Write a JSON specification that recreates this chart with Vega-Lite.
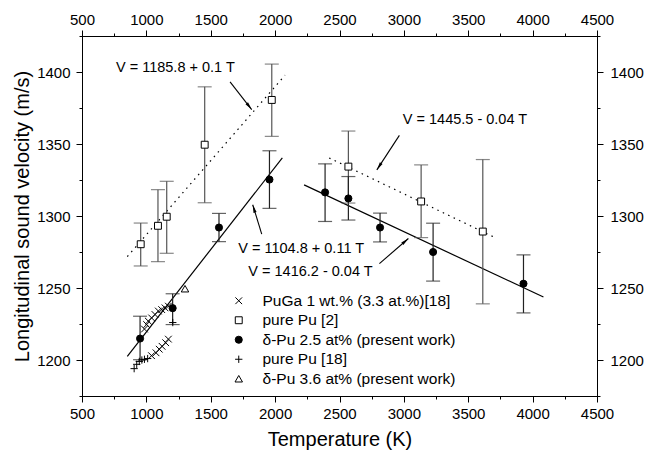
{
  "$schema": "https://vega.github.io/schema/vega-lite/v6.json",
  "width": 515,
  "height": 360,
  "autosize": {"type": "none"},
  "padding": {"left": 82, "top": 36, "right": 49, "bottom": 60},
  "background": "white",
  "config": {
    "view": {"stroke": "black", "strokeWidth": 1},
    "font": "Liberation Sans",
    "axis": {
      "grid": false, "domainColor": "black", "tickColor": "black", "labelColor": "black", "titleColor": "black",
      "labelFont": "Liberation Sans", "titleFont": "Liberation Sans", "labelFontSize": 15, "titleFontSize": 20,
      "titleFontWeight": "normal", "labelFlush": false, "labelOverlap": false, "labelBound": false,
      "domainWidth": 1, "tickWidth": 1, "format": "d"
    }
  },
  "datasets": {
    "fits": [
      {"group": "pure Pu [2]", "branch": "low", "T": 852, "V": 1271.8},
      {"group": "pure Pu [2]", "branch": "low", "T": 2077, "V": 1397.8},
      {"group": "pure Pu [2]", "branch": "high", "T": 2420, "V": 1340.3},
      {"group": "pure Pu [2]", "branch": "high", "T": 3696, "V": 1285.5},
      {"group": "δ-Pu 2.5 at%", "branch": "low", "T": 852, "V": 1202.5},
      {"group": "δ-Pu 2.5 at%", "branch": "low", "T": 2056, "V": 1340.4},
      {"group": "δ-Pu 2.5 at%", "branch": "high", "T": 2225, "V": 1321.6},
      {"group": "δ-Pu 2.5 at%", "branch": "high", "T": 4084, "V": 1243.7}
    ],
    "errs": [
      {"series": "pure Pu [2]", "T": 956, "V": 1280.4, "lo": 1265.3, "hi": 1295.1},
      {"series": "pure Pu [2]", "T": 1090, "V": 1293.2, "lo": 1268.3, "hi": 1318.3},
      {"series": "pure Pu [2]", "T": 1158, "V": 1299.5, "lo": 1274.1, "hi": 1324.1},
      {"series": "pure Pu [2]", "T": 1453, "V": 1349.5, "lo": 1309.2, "hi": 1389.7},
      {"series": "pure Pu [2]", "T": 1974, "V": 1380.6, "lo": 1355.3, "hi": 1405.5},
      {"series": "pure Pu [2]", "T": 2569, "V": 1334.3, "lo": 1309.0, "hi": 1359.0},
      {"series": "pure Pu [2]", "T": 3134, "V": 1310.1, "lo": 1285.0, "hi": 1335.5},
      {"series": "pure Pu [2]", "T": 3613, "V": 1289.2, "lo": 1239.0, "hi": 1339.2},
      {"series": "δ-Pu 2.5 at% (present work)", "T": 951, "V": 1214.9, "lo": 1200.2, "hi": 1230.4},
      {"series": "δ-Pu 2.5 at% (present work)", "T": 1204, "V": 1236.0, "lo": 1224.6, "hi": 1246.0},
      {"series": "δ-Pu 2.5 at% (present work)", "T": 1564, "V": 1292.0, "lo": 1282.2, "hi": 1301.8},
      {"series": "δ-Pu 2.5 at% (present work)", "T": 1956, "V": 1325.3, "lo": 1305.3, "hi": 1345.3},
      {"series": "δ-Pu 2.5 at% (present work)", "T": 2388, "V": 1316.4, "lo": 1296.2, "hi": 1336.2},
      {"series": "δ-Pu 2.5 at% (present work)", "T": 2569, "V": 1312.2, "lo": 1297.2, "hi": 1327.4},
      {"series": "δ-Pu 2.5 at% (present work)", "T": 2815, "V": 1292.0, "lo": 1282.0, "hi": 1302.0},
      {"series": "δ-Pu 2.5 at% (present work)", "T": 3227, "V": 1275.0, "lo": 1254.8, "hi": 1295.0},
      {"series": "δ-Pu 2.5 at% (present work)", "T": 3929, "V": 1253.0, "lo": 1232.7, "hi": 1273.0}
    ],
    "pts": [
      {"series": "PuGa 1 wt.% (3.3 at.%)[18]", "T": 985, "V": 1221.5},
      {"series": "PuGa 1 wt.% (3.3 at.%)[18]", "T": 1002, "V": 1224.6},
      {"series": "PuGa 1 wt.% (3.3 at.%)[18]", "T": 1015, "V": 1227.0},
      {"series": "PuGa 1 wt.% (3.3 at.%)[18]", "T": 1041, "V": 1229.2},
      {"series": "PuGa 1 wt.% (3.3 at.%)[18]", "T": 1067, "V": 1231.6},
      {"series": "PuGa 1 wt.% (3.3 at.%)[18]", "T": 1093, "V": 1234.0},
      {"series": "PuGa 1 wt.% (3.3 at.%)[18]", "T": 1119, "V": 1235.0},
      {"series": "PuGa 1 wt.% (3.3 at.%)[18]", "T": 1145, "V": 1236.2},
      {"series": "PuGa 1 wt.% (3.3 at.%)[18]", "T": 1171, "V": 1237.4},
      {"series": "PuGa 1 wt.% (3.3 at.%)[18]", "T": 1040, "V": 1203.0},
      {"series": "PuGa 1 wt.% (3.3 at.%)[18]", "T": 1075, "V": 1205.0},
      {"series": "PuGa 1 wt.% (3.3 at.%)[18]", "T": 1100, "V": 1207.5},
      {"series": "PuGa 1 wt.% (3.3 at.%)[18]", "T": 1122, "V": 1209.5},
      {"series": "PuGa 1 wt.% (3.3 at.%)[18]", "T": 1150, "V": 1212.0},
      {"series": "PuGa 1 wt.% (3.3 at.%)[18]", "T": 1171, "V": 1214.5},
      {"series": "pure Pu [2]", "T": 956, "V": 1280.4},
      {"series": "pure Pu [2]", "T": 1090, "V": 1293.2},
      {"series": "pure Pu [2]", "T": 1158, "V": 1299.5},
      {"series": "pure Pu [2]", "T": 1453, "V": 1349.5},
      {"series": "pure Pu [2]", "T": 1974, "V": 1380.6},
      {"series": "pure Pu [2]", "T": 2569, "V": 1334.3},
      {"series": "pure Pu [2]", "T": 3134, "V": 1310.1},
      {"series": "pure Pu [2]", "T": 3613, "V": 1289.2},
      {"series": "δ-Pu 2.5 at% (present work)", "T": 951, "V": 1214.9},
      {"series": "δ-Pu 2.5 at% (present work)", "T": 1204, "V": 1236.0},
      {"series": "δ-Pu 2.5 at% (present work)", "T": 1564, "V": 1292.0},
      {"series": "δ-Pu 2.5 at% (present work)", "T": 1956, "V": 1325.3},
      {"series": "δ-Pu 2.5 at% (present work)", "T": 2388, "V": 1316.4},
      {"series": "δ-Pu 2.5 at% (present work)", "T": 2569, "V": 1312.2},
      {"series": "δ-Pu 2.5 at% (present work)", "T": 2815, "V": 1292.0},
      {"series": "δ-Pu 2.5 at% (present work)", "T": 3227, "V": 1275.0},
      {"series": "δ-Pu 2.5 at% (present work)", "T": 3929, "V": 1253.0},
      {"series": "pure Pu [18]", "T": 905, "V": 1194.0},
      {"series": "pure Pu [18]", "T": 925, "V": 1197.0},
      {"series": "pure Pu [18]", "T": 945, "V": 1199.0},
      {"series": "pure Pu [18]", "T": 965, "V": 1200.0},
      {"series": "pure Pu [18]", "T": 985, "V": 1200.5},
      {"series": "pure Pu [18]", "T": 1010, "V": 1201.0},
      {"series": "pure Pu [18]", "T": 1205, "V": 1226.0},
      {"series": "δ-Pu 3.6 at% (present work)", "T": 1300, "V": 1249.5}
    ],
    "arrows": [
      {"T": 1650, "V": 1393.1, "T2": 1818, "V2": 1373.9, "heading": 142},
      {"T": 2965, "V": 1356.0, "T2": 2790, "V2": 1332.0, "heading": 213},
      {"T": 1896, "V": 1287.4, "T2": 1826, "V2": 1307.8, "heading": 343},
      {"T": 2810, "V": 1266.9, "T2": 3035, "V2": 1284.4, "heading": 49}
    ],
    "notes": [
      {"T": 764, "V": 1402.5, "text": "V = 1185.8 + 0.1 T"},
      {"T": 2992, "V": 1366.4, "text": "V = 1445.5 - 0.04 T"},
      {"T": 1714, "V": 1277.0, "text": "V = 1104.8 + 0.11 T"},
      {"T": 1792, "V": 1261.3, "text": "V = 1416.2 - 0.04 T"}
    ]
  },
  "layer": [
    {
      "data": {"name": "fits"},
      "transform": [{"filter": "datum.group === 'pure Pu [2]'"}],
      "mark": {"type": "line", "color": "black", "strokeWidth": 1.2, "strokeDash": [1.5, 4.5]},
      "encoding": {
        "x": {"field": "T", "type": "quantitative", "scale": {"domain": [500, 4500], "nice": false, "zero": false},
          "axis": {"orient": "bottom", "title": "Temperature (K)",
            "values": [500,750,1000,1250,1500,1750,2000,2250,2500,2750,3000,3250,3500,3750,4000,4250,4500],
            "labelExpr": "datum.value % 500 === 0 ? datum.label : ''",
            "tickSize": {"condition": {"test": "datum.value % 500 === 0", "value": 6}, "value": 3},
            "labelPadding": 4, "titlePadding": 8}},
        "y": {"field": "V", "type": "quantitative", "scale": {"domain": [1175, 1425], "nice": false, "zero": false},
          "axis": {"orient": "left", "title": "Longitudinal sound velocity (m/s)",
            "values": [1175,1200,1225,1250,1275,1300,1325,1350,1375,1400,1425],
            "labelExpr": "datum.value % 50 === 0 ? datum.label : ''",
            "tickSize": {"condition": {"test": "datum.value % 50 === 0", "value": 6}, "value": 3},
            "labelPadding": 6, "titlePadding": 4}},
        "detail": {"field": "branch"}
      }
    },
    {
      "data": {"name": "fits"},
      "transform": [{"filter": "datum.group !== 'pure Pu [2]'"}],
      "mark": {"type": "line", "color": "black", "strokeWidth": 1.2},
      "encoding": {
        "x": {"field": "T", "type": "quantitative",
          "axis": {"orient": "top", "title": null,
            "values": [500,750,1000,1250,1500,1750,2000,2250,2500,2750,3000,3250,3500,3750,4000,4250,4500],
            "labelExpr": "datum.value % 500 === 0 ? datum.label : ''",
            "tickSize": {"condition": {"test": "datum.value % 500 === 0", "value": 6}, "value": 3},
            "labelPadding": 3}},
        "y": {"field": "V", "type": "quantitative",
          "axis": {"orient": "right", "title": null,
            "values": [1175,1200,1225,1250,1275,1300,1325,1350,1375,1400,1425],
            "labelExpr": "datum.value % 50 === 0 ? datum.label : ''",
            "tickSize": {"condition": {"test": "datum.value % 50 === 0", "value": 6}, "value": 3},
            "labelPadding": 7}},
        "detail": {"field": "branch"}
      }
    },
    {
      "data": {"name": "errs"},
      "mark": {"type": "rule", "strokeWidth": 1.2},
      "encoding": {
        "x": {"field": "T", "type": "quantitative", "axis": null},
        "y": {"field": "lo", "type": "quantitative", "axis": null},
        "y2": {"field": "hi"},
        "color": {"condition": {"test": "datum.series === 'pure Pu [2]'", "value": "#555555"}, "value": "#222222"}
      }
    },
    {
      "data": {"name": "errs"},
      "mark": {"type": "tick", "orient": "horizontal", "size": 14, "thickness": 1.2},
      "encoding": {
        "x": {"field": "T", "type": "quantitative", "axis": null},
        "y": {"field": "lo", "type": "quantitative", "axis": null},
        "color": {"condition": {"test": "datum.series === 'pure Pu [2]'", "value": "#555555"}, "value": "#222222"}
      }
    },
    {
      "data": {"name": "errs"},
      "mark": {"type": "tick", "orient": "horizontal", "size": 14, "thickness": 1.2},
      "encoding": {
        "x": {"field": "T", "type": "quantitative", "axis": null},
        "y": {"field": "hi", "type": "quantitative", "axis": null},
        "color": {"condition": {"test": "datum.series === 'pure Pu [2]'", "value": "#555555"}, "value": "#222222"}
      }
    },
    {
      "data": {"name": "pts"},
      "mark": {"type": "point", "stroke": "black", "strokeWidth": 1, "opacity": 1, "fillOpacity": 1},
      "encoding": {
        "x": {"field": "T", "type": "quantitative", "axis": null},
        "y": {"field": "V", "type": "quantitative", "axis": null},
        "shape": {"field": "series", "type": "nominal",
          "scale": {"domain": ["PuGa 1 wt.% (3.3 at.%)[18]", "pure Pu [2]", "δ-Pu 2.5 at% (present work)", "pure Pu [18]", "δ-Pu 3.6 at% (present work)"],
            "range": ["M-1,-1L1,1M1,-1L-1,1", "square", "circle", "M-1,0L1,0M0,-1L0,1", "triangle-up"]},
          "legend": {"orient": "none", "legendX": 149, "legendY": 257, "title": null, "padding": 0,
            "labelFont": "Liberation Sans", "labelFontSize": 15.5, "labelColor": "black", "labelOffset": 16,
            "labelLimit": 400, "rowPadding": 2.5, "symbolStrokeColor": "black", "symbolStrokeWidth": 1}},
        "fill": {"field": "series", "type": "nominal",
          "scale": {"domain": ["PuGa 1 wt.% (3.3 at.%)[18]", "pure Pu [2]", "δ-Pu 2.5 at% (present work)", "pure Pu [18]", "δ-Pu 3.6 at% (present work)"],
            "range": ["transparent", "white", "black", "transparent", "white"]}},
        "size": {"field": "series", "type": "nominal",
          "scale": {"domain": ["PuGa 1 wt.% (3.3 at.%)[18]", "pure Pu [2]", "δ-Pu 2.5 at% (present work)", "pure Pu [18]", "δ-Pu 3.6 at% (present work)"],
            "range": [45, 56, 90, 50, 85]}}
      }
    },
    {
      "data": {"name": "arrows"},
      "mark": {"type": "rule", "color": "black", "strokeWidth": 1.1},
      "encoding": {
        "x": {"field": "T", "type": "quantitative", "axis": null},
        "y": {"field": "V", "type": "quantitative", "axis": null},
        "x2": {"field": "T2"},
        "y2": {"field": "V2"}
      }
    },
    {
      "data": {"name": "arrows"},
      "mark": {"type": "point", "shape": "M0,0L-0.4,2L0.4,2Z", "size": 64, "filled": true, "color": "black", "opacity": 1},
      "encoding": {
        "x": {"field": "T2", "type": "quantitative", "axis": null},
        "y": {"field": "V2", "type": "quantitative", "axis": null},
        "angle": {"field": "heading", "type": "quantitative", "scale": null}
      }
    },
    {
      "data": {"name": "notes"},
      "mark": {"type": "text", "align": "left", "baseline": "middle", "font": "Liberation Sans", "fontSize": 14.5, "color": "black"},
      "encoding": {
        "x": {"field": "T", "type": "quantitative", "axis": null},
        "y": {"field": "V", "type": "quantitative", "axis": null},
        "text": {"field": "text"}
      }
    }
  ],
  "resolve": {"axis": {"x": "independent", "y": "independent"}}
}
